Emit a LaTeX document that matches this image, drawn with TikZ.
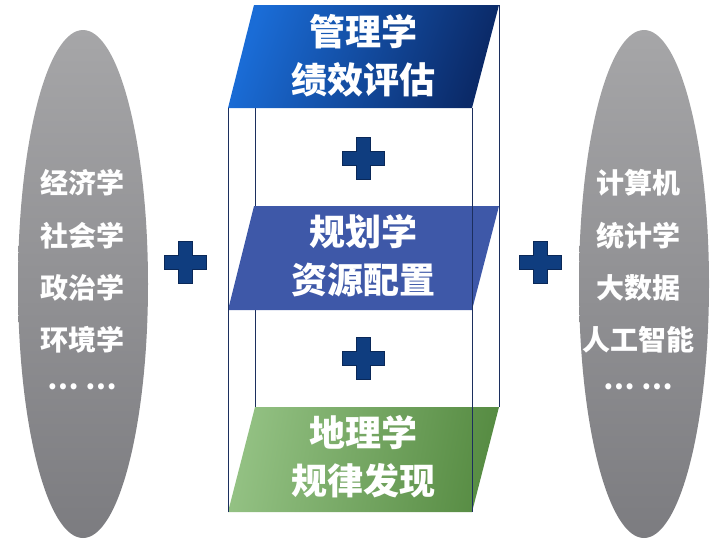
\documentclass[tikz,border=0pt]{standalone}
\usepackage{fontspec}
\newfontfamily\cjk{Noto Sans CJK SC}
\usetikzlibrary{shapes.geometric}

\definecolor{ovaltop}{HTML}{A6A6A8}
\definecolor{ovalbot}{HTML}{7C7C80}
\definecolor{mgtA}{HTML}{1A6CD6}
\definecolor{mgtB}{HTML}{0B2A68}
\definecolor{plan}{HTML}{3E58A8}
\definecolor{geoA}{HTML}{93C183}
\definecolor{geoB}{HTML}{578C43}
\definecolor{plusfill}{HTML}{0F3D7F}
\definecolor{plusline}{HTML}{0A2858}
\definecolor{edgeline}{HTML}{1C2F5E}

\tikzset{
  oval/.style={ellipse,minimum width=130pt,minimum height=508pt,inner sep=0pt,
    top color=ovaltop,bottom color=ovalbot,draw=none},
  ovaltext/.style={text=white,font=\cjk\bfseries\fontsize{28}{28}\selectfont},
  boxtext/.style={text=white,align=center,font=\cjk\bfseries\fontsize{36}{48}\selectfont},
  edge/.style={draw=edgeline,line width=0.8pt},
  plussign/.style={fill=plusfill,draw=plusline,line width=0.8pt},
}

\begin{document}
\begin{tikzpicture}[x=1pt,y=-1pt]
\useasboundingbox (0,0) rectangle (720,555);

% left and right fields
\node[oval] (leftoval) at (83,284) {};
\node[oval] (rightoval) at (644,284) {};

\node[ovaltext] (econ) at (82,183) {经济学};
\node[ovaltext] (soci) at (82,236) {社会学};
\node[ovaltext] (poli) at (82,288) {政治学};
\node[ovaltext] (envi) at (82,340) {环境学};
\node[ovaltext] (ldots) at (82,387) {… …};

\node[ovaltext] (comp) at (638,183) {计算机};
\node[ovaltext] (stat) at (638,236) {统计学};
\node[ovaltext] (bigd) at (638,288) {大数据};
\node[ovaltext] (arti) at (638,340) {人工智能};
\node[ovaltext] (rdots) at (638,387) {… …};

% corners of the three slabs
\coordinate (mgtTL) at (254,5);   \coordinate (mgtTR) at (499,5);
\coordinate (mgtBR) at (472,108); \coordinate (mgtBL) at (228,108);
\coordinate (mgtBM) at (255,108);
\coordinate (plnTL) at (254,206); \coordinate (plnTR) at (499,206);
\coordinate (plnBR) at (472,310); \coordinate (plnBL) at (228,310);
\coordinate (geoTL) at (255,407); \coordinate (geoTR) at (499,407);
\coordinate (geoBR) at (472,512); \coordinate (geoBL) at (228,512);

% back edges
\draw[edge] (mgtTR) -- (geoTR);
\draw[edge] (mgtBM) -- (geoTL);

% slabs
\shade[left color=mgtA,right color=mgtB,shading angle=70]
  (mgtTL) -- (mgtTR) -- (mgtBR) -- (mgtBL) -- cycle;
\fill[plan] (plnTL) -- (plnTR) -- (plnBR) -- (plnBL) -- cycle;
\shade[left color=geoA,right color=geoB,shading angle=80]
  (geoTL) -- (geoTR) -- (geoBR) -- (geoBL) -- cycle;

% front edges
\draw[edge] (mgtBL) -- (geoBL);
\draw[edge] (mgtBR) -- (geoBR);

\node[boxtext] (mgt) at (363,56) {管理学\\绩效评估};
\node[boxtext] (pln) at (363,256) {规划学\\资源配置};
\node[boxtext] (geo) at (363,457) {地理学\\规律发现};

% plus signs
\foreach \px/\py in {185/262,540/262,363/158,363/358}
  \draw[plussign,shift={(\px,\py)}] (-7,-21) -- (7,-21) -- (7,-7) -- (21,-7)
    -- (21,7) -- (7,7) -- (7,21) -- (-7,21) -- (-7,7) -- (-21,7) -- (-21,-7)
    -- (-7,-7) -- cycle;
\end{tikzpicture}
\end{document}
